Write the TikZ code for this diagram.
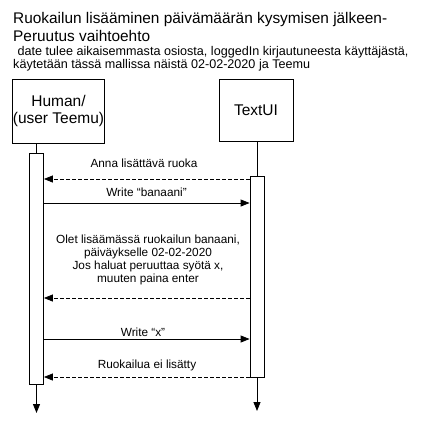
\documentclass[tikz,border=0pt]{standalone}
\usepackage{fontspec}
\setmainfont{Liberation Sans}
\usetikzlibrary{arrows.meta}
\begin{document}
\begin{tikzpicture}[x=1pt,y=-1pt,
  actor/.style={draw,line width=0.8pt,align=center,inner sep=0pt,font=\fontsize{15.5}{17}\selectfont},
  actbar/.style={draw,line width=0.8pt,fill=white,minimum width=14pt,inner sep=0pt},
  lifeline/.style={line width=0.8pt},
  msg/.style={line width=0.8pt,-{Triangle[length=9pt,width=7pt]}},
  reply/.style={msg,dash pattern=on 4pt off 2pt},
  lbl/.style={font=\fontsize{11.8}{13.2}\selectfont,align=center,inner sep=0pt},
  ttl/.style={anchor=base west,inner sep=0pt,font=\fontsize{15.4}{17}\selectfont},
  sub/.style={anchor=base west,inner sep=0pt,font=\fontsize{12.6}{14}\selectfont}]
\useasboundingbox (0,0) rectangle (436,424);
\node[ttl] (t1) at (13,23.5) {Ruokailun lisääminen päivämäärän kysymisen jälkeen-};
\node[ttl] (t2) at (13,41) {Peruutus vaihtoehto};
\node[sub] (t3) at (14,55.7) {\ date tulee aikaisemmasta osiosta, loggedIn kirjautuneesta käyttäjästä,};
\node[sub] (t4) at (13,68.5) {käytetään tässä mallissa näistä 02-02-2020 ja Teemu};

\node[actor,minimum width=92pt,minimum height=64pt] (human) at (58.5,111) {Human/\\(user Teemu)};
\node[actor,minimum width=74pt,minimum height=62pt] (textui) at (256,110) {TextUI};

\node[actbar,minimum height=231pt] (hact) at (36.5,268.5) {};
\node[actbar,minimum height=201pt] (tact) at (257,276.5) {};

\draw[lifeline] (human.south -| hact.north) -- (hact.north);
\draw[lifeline] (textui.south -| tact.north) -- (tact.north);
\coordinate (hend) at (36.5,413);
\coordinate (tend) at (257,411);
\draw[msg] (hact.south) -- (hend);
\draw[msg] (tact.south) -- (tend);

\coordinate (m1) at (0,179);
\coordinate (m2) at (0,203);
\coordinate (m3) at (0,298);
\coordinate (m4) at (0,339);
\coordinate (m5) at (0,377);
\draw[reply] (tact.west |- m1) -- (hact.east |- m1);
\draw[msg] (hact.east |- m2) -- (tact.west |- m2);
\draw[reply] (tact.west |- m3) -- (hact.east |- m3);
\draw[msg] (hact.east |- m4) -- (tact.west |- m4);
\draw[reply] (tact.west |- m5) -- (hact.east |- m5);

\node[lbl,anchor=base] (l1) at (144,167) {Anna lisättävä ruoka};
\node[lbl,anchor=base] (l2) at (146.5,196) {Write “banaani”};
\node[lbl] (l3) at (148,260) {Olet lisäämässä ruokailun banaani,\\päiväykselle 02-02-2020\\Jos haluat peruuttaa syötä x,\\muuten paina enter};
\node[lbl,anchor=base] (l4) at (143,336.5) {Write “x”};
\node[lbl,anchor=base] (l5) at (147,368) {Ruokailua ei lisätty};
\end{tikzpicture}
\end{document}
